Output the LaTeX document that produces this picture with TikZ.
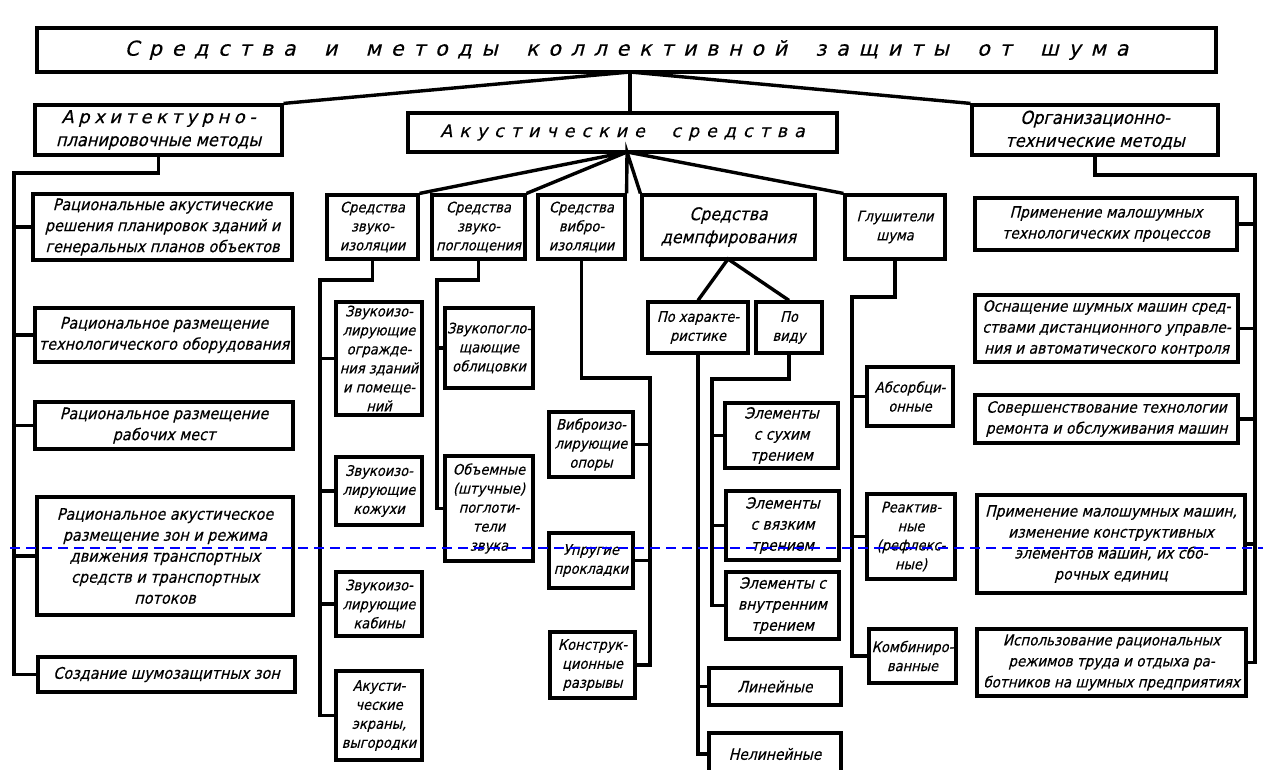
\documentclass[tikz,border=0pt]{standalone}
\usepackage{fontspec}
\newfontfamily\gost{DejaVu Sans}[FakeSlant=0.25,FakeStretch=0.9,FakeBold=0.4]
\newfontfamily\gostw{DejaVu Sans}[FakeSlant=0.25,LetterSpace=40,FakeBold=0.4]
\newfontfamily\gostt{DejaVu Sans}[FakeSlant=0.25,LetterSpace=48,FakeBold=0.4]
\newfontfamily\gostm{DejaVu Sans}[FakeSlant=0.25,LetterSpace=25,FakeBold=0.4]
\newcommand\bx[7][]{%
  \node[box,#1,minimum width={#5pt-#3pt},minimum height={#6pt-#4pt}]
    (#2) at ({(#3+#5)/2},{(#4+#6)/2}) {#7};}
\begin{document}
\begin{tikzpicture}[x=1pt,y=-1pt,
  box/.style={draw,line width=3.2pt,inner sep=0pt,align=center,
    font=\gost\fontsize{16}{21}\selectfont},
  sm/.style={font=\gost\fontsize{14.5}{19}\selectfont},
  md/.style={font=\gost\fontsize{15.5}{21}\selectfont},
  ln/.style={line width=3.4pt},
  bl/.style={blue,line width=1.3pt,dash pattern=on 10pt off 6pt}]
\useasboundingbox (0,0) rectangle (1263,769);
% level 0 and 1
\bx[font=\gostt\fontsize{20.5}{24}\selectfont]{T}{37}{28}{1216}{72}{Средства\hspace{12pt} и\hspace{12pt} методы\hspace{12pt} коллективной\hspace{12pt} защиты\hspace{12pt} от\hspace{12pt} шума}
\bx[font=\gost\fontsize{18}{23}\selectfont]{Arch}{35}{105}{282}{155}{{\gostm Архитектурно-}\\планировочные методы}
\bx[font=\gostw\fontsize{17.5}{22}\selectfont]{Ak}{408}{113}{837}{152}{Акустические\hspace{14pt} средства}
\bx[font=\gost\fontsize{18}{23}\selectfont]{Org}{972}{105}{1218}{155}{Организационно-\\технические методы}
% left column
\bx{L1}{33}{194}{292}{260}{Рациональные акустические\\решения планировок зданий и\\генеральных планов объектов}
\bx{L2}{35}{308}{293}{362}{Рациональное размещение\\технологического оборудования}
\bx{L3}{35}{402}{293}{449}{Рациональное размещение\\рабочих мест}
\bx{L4}{37}{497}{293}{615}{Рациональное акустическое\\размещение зон и режима\\движения транспортных\\средств и транспортных\\потоков}
\bx{L5}{38}{657}{295}{692}{Создание шумозащитных зон}
% acoustic children
\bx[sm]{A1}{327}{195}{418}{259}{Средства\\звуко-\\изоляции}
\bx[sm]{A2}{432}{195}{525}{259}{Средства\\звуко-\\поглощения}
\bx[sm]{A3}{538}{195}{625}{259}{Средства\\вибро-\\изоляции}
\bx[font=\gost\fontsize{17.5}{23}\selectfont]{A4}{642}{195}{815}{259}{Средства\\демпфирования}
\bx[sm]{A5}{845}{195}{945}{259}{Глушители\\шума}
\bx[sm]{B1}{336}{302}{422}{415}{Звукоизо-\\лирующие\\огражде-\\ния зданий\\и помеще-\\ний}
\bx[sm]{B2}{336}{457}{422}{525}{Звукоизо-\\лирующие\\кожухи}
\bx[sm]{B3}{336}{572}{422}{636}{Звукоизо-\\лирующие\\кабины}
\bx[sm]{B4}{336}{671}{422}{760}{Акусти-\\ческие\\экраны,\\выгородки}
\bx[sm]{C1}{445}{308}{533}{388}{Звукопогло-\\щающие\\облицовки}
\bx[sm]{C2}{445}{456}{533}{561}{Объемные\\(штучные)\\поглоти-\\тели\\звука}
\bx[sm]{D1}{549}{412}{633}{477}{Виброизо-\\лирующие\\опоры}
\bx[sm]{D2}{549}{533}{633}{588}{Упругие\\прокладки}
\bx[sm]{D3}{550}{632}{635}{698}{Конструк-\\ционные\\разрывы}
\bx[sm]{E1}{648}{302}{748}{353}{По характе-\\ристике}
\bx[sm]{E2}{756}{302}{822}{353}{По\\виду}
\bx[md]{F1}{725}{403}{838}{468}{Элементы\\с сухим\\трением}
\bx[md]{F2}{726}{491}{839}{560}{Элементы\\с вязким\\трением}
\bx[md]{F3}{726}{572}{839}{639}{Элементы с\\внутренним\\трением}
\bx[md]{F4}{709}{668}{841}{705}{Линейные}
\bx[md]{F5}{709}{733}{841}{775}{Нелинейные}
\bx[sm]{G1}{867}{367}{953}{426}{Абсорбци-\\онные}
\bx[sm]{G2}{867}{494}{955}{579}{Реактив-\\ные\\(рефлекс-\\ные)}
\bx[sm]{G3}{869}{629}{956}{683}{Комбиниро-\\ванные}
% right column
\bx[md]{R1}{975}{198}{1237}{250}{Применение малошумных\\технологических процессов}
\bx[md]{R2}{975}{295}{1238}{362}{Оснащение шумных машин сред-\\ствами дистанционного управле-\\ния и автоматического контроля}
\bx[md]{R3}{975}{395}{1238}{443}{Совершенствование технологии\\ремонта и обслуживания машин}
\bx[md]{R4}{977}{495}{1245}{593}{Применение малошумных машин,\\изменение конструктивных\\элементов машин, их сбо-\\рочных единиц}
\bx[font=\gost\fontsize{15}{21}\selectfont]{R5}{977}{629}{1246}{696}{Использование рациональных\\режимов труда и отдыха ра-\\ботников на шумных предприятиях}
% junction coordinates
\coordinate (tj) at (630,72);
\coordinate (aj) at (627,152);
\coordinate (dj) at (728,259);
\coordinate (tL) at (14,173);
\coordinate (tR) at (1255,175);
\coordinate (tA1) at (320,280);
\coordinate (tA2) at (437,280);
\coordinate (tA3) at (650,378);
\coordinate (tA5) at (852,297);
\coordinate (tE2) at (712,379);
% top connectors
\draw[ln] (Arch.north east) -- (tj) -- (Org.north west);
\draw[ln] (tj) -- (tj |- Ak.north);
\draw[ln] (A1.north east) -- (aj) -- (A2.north east);
\draw[ln] (A3.north east) -- (aj) -- (A4.north west);
\draw[ln] (aj) -- (A5.north west);
\draw[ln] (E1.north) -- (dj) -- (E2.north);
% left trunk
\draw[ln] (Arch.south) |- (tL) |- (L5.west);
\foreach \n in {L1,L2,L3,L4} \draw[ln] (\n.west) -- (\n.west -| tL);
% right trunk
\draw[ln] (Org.south) |- (tR) |- (R5.east);
\foreach \n in {R1,R2,R3,R4} \draw[ln] (\n.east) -- (\n.east -| tR);
% sound insulation
\draw[ln] (A1.south) |- (tA1) |- (B4.west);
\foreach \n in {B1,B2,B3} \draw[ln] (\n.west) -- (\n.west -| tA1);
% sound absorption
\draw[ln] (A2.south) |- (tA2) |- (C2.west);
\draw[ln] (C1.west) -- (C1.west -| tA2);
% vibration isolation
\draw[ln] (A3.south) |- (tA3) |- (D3.east);
\foreach \n in {D1,D2} \draw[ln] (\n.east) -- (\n.east -| tA3);
% damping
\draw[ln] (E1.south) |- (F5.west);
\draw[ln] (F4.west) -- (F4.west -| E1.south);
\draw[ln] (E2.south) |- (tE2) |- (F3.west);
\foreach \n in {F1,F2} \draw[ln] (\n.west) -- (\n.west -| tE2);
% silencers
\draw[ln] (A5.south) |- (tA5) |- (G3.west);
\foreach \n in {G1,G2} \draw[ln] (\n.west) -- (\n.west -| tA5);
% blue dashed guide line
\coordinate (gl) at (10,548);
\coordinate (gr) at (1263,548);
\draw[bl] (gl) -- (gr);
\end{tikzpicture}
\end{document}
